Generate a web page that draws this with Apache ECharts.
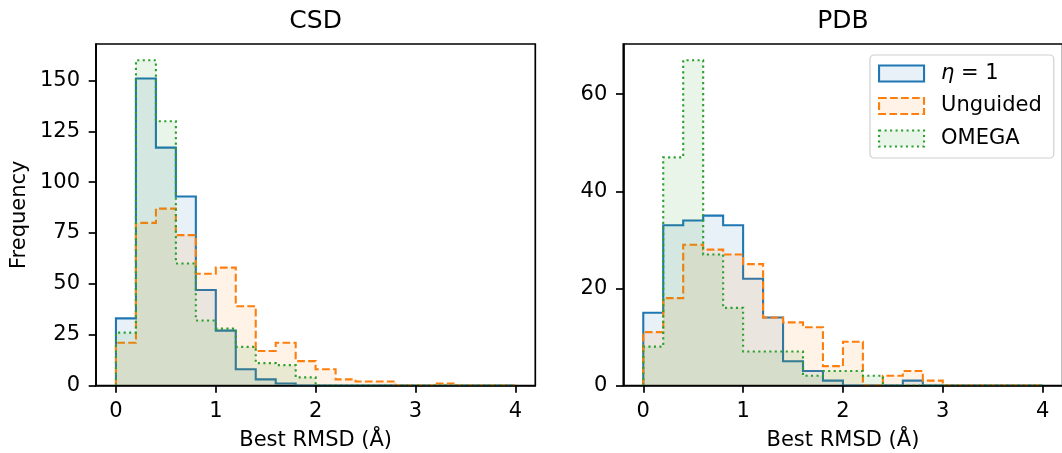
<!DOCTYPE html>
<html><head><meta charset="utf-8">
<script src="https://cdn.jsdelivr.net/npm/echarts@6/dist/echarts.min.js"></script>
<style>html,body{margin:0;padding:0;background:#fff}#c{width:1062px;height:453px}</style>
</head><body><div id="c"></div>
<script>
// ---- data ----
const binEdges = [0, 0.2, 0.4, 0.6, 0.8, 1.0, 1.2, 1.4, 1.6, 1.8, 2.0, 2.2, 2.4, 2.6, 2.8, 3.0, 3.2, 3.4, 3.6, 3.8, 4.0];
const seriesNames = ['η = 1', 'Unguided', 'OMEGA'];
const panelTitles = ['CSD', 'PDB'];

const csdEta      = [33, 151, 117, 93, 47, 27, 8, 3, 1, 0, 0, 0, 0, 0, 0, 0, 0, 0, 0, 0];
const csdUnguided = [21, 80, 87, 74, 55, 58, 39, 17, 21, 12, 8, 3, 2, 2, 0, 0, 1, 0, 0, 0];
const csdOmega    = [26, 160, 130, 60, 32, 28, 19, 11, 10, 4, 0, 0, 0, 0, 0, 0, 0, 0, 0, 0];

const pdbEta      = [15, 33, 34, 35, 33, 22, 14, 5, 3, 1, 0, 0, 0, 1, 0, 0, 0, 0, 0, 0];
const pdbUnguided = [11, 18, 29, 28, 27, 25, 14, 13, 12, 4, 9, 0, 2, 3, 1, 0, 0, 0, 0, 0];
const pdbOmega    = [8, 47, 67, 27, 16, 7, 7, 7, 2, 3, 3, 2, 0, 0, 0, 0, 0, 0, 0, 0];

const xTicks = [0, 1, 2, 3, 4];
const csdYTicks = [0, 25, 50, 75, 100, 125, 150];
const pdbYTicks = [0, 20, 40, 60];
const xLabel = 'Best RMSD (Å)';
const yLabel = 'Frequency';

// ---- styling ----
const FONT = 'DejaVu Sans';
const colors = ['#1f77b4', '#ff7f0e', '#2ca02c'];
const fills = ['rgba(31,119,180,0.1)', 'rgba(255,127,14,0.1)', 'rgba(44,160,44,0.1)'];
const dashes = ['solid', [7.7, 3.3], [2.1, 3.4]];

const panels = [
  { data: [csdEta, csdUnguided, csdOmega], yTicks: csdYTicks, left: 96 },
  { data: [pdbEta, pdbUnguided, pdbOmega], yTicks: pdbYTicks, left: 623.3 }
];
const GRID_TOP = 44, GRID_H = 341.5, GRID_W = 439.3;

function stepPoints(counts) {
  const n = counts.length;
  const pts = [[binEdges[0], 0]];
  for (let i = 0; i < n; i++) {
    pts.push([binEdges[i], counts[i]]);
    pts.push([binEdges[i + 1], counts[i]]);
  }
  pts.push([binEdges[n], 0]);
  return pts;
}

const grids = [], xAxes = [], yAxes = [], series = [], titles = [];
panels.forEach((p, pi) => {
  grids.push({
    left: p.left, top: GRID_TOP, width: GRID_W, height: GRID_H,
    show: true, borderColor: '#000', borderWidth: 1.7, backgroundColor: 'transparent',
    containLabel: false, outerBoundsMode: 'none'
  });
  const allMax = Math.max(...p.data.map(a => Math.max(...a)));
  xAxes.push({
    type: 'value', gridIndex: pi, min: -0.2, max: 4.2, z: 5,
    name: xLabel, nameLocation: 'middle', nameGap: 45,
    nameTextStyle: { fontFamily: FONT, fontSize: 21, color: '#000' },
    axisLine: { show: true, onZero: false, lineStyle: { color: '#000', width: 1.7 } },
    axisTick: { show: true, length: 7.3, lineStyle: { color: '#000', width: 1.7 }, customValues: xTicks },
    axisLabel: { customValues: xTicks, margin: 16, fontFamily: FONT, fontSize: 21, color: '#000' },
    splitLine: { show: false }
  });
  yAxes.push({
    type: 'value', gridIndex: pi, min: 0, max: allMax * 1.05, z: 5,
    name: pi === 0 ? yLabel : '', nameLocation: 'middle', nameGap: 66,
    nameTextStyle: { fontFamily: FONT, fontSize: 21, color: '#000' },
    axisLine: { show: true, onZero: false, lineStyle: { color: '#000', width: 1.7 } },
    axisTick: { show: true, length: 7.3, lineStyle: { color: '#000', width: 1.7 }, customValues: p.yTicks },
    axisLabel: { customValues: p.yTicks, margin: 16, fontFamily: FONT, fontSize: 21, color: '#000' },
    splitLine: { show: false }
  });
  titles.push({
    text: panelTitles[pi], left: p.left + GRID_W / 2, top: 9, padding: 0, textAlign: 'center',
    textStyle: { fontFamily: FONT, fontSize: 25, fontWeight: 'normal', color: '#000' }
  });
  p.data.forEach((counts, si) => {
    series.push({
      type: 'line', name: seriesNames[si], xAxisIndex: pi, yAxisIndex: pi,
      data: stepPoints(counts), symbol: 'none', smooth: false, animation: false,
      lineStyle: { color: colors[si], width: 2.1, type: dashes[si], join: 'miter', cap: 'butt' },
      itemStyle: { color: colors[si] },
      areaStyle: { color: fills[si], opacity: 1 },
      emphasis: { disabled: true }, silent: true, z: 2 + si
    });
  });
});

const chart = echarts.init(document.getElementById('c'), null, { renderer: 'canvas' });
chart.setOption({
  backgroundColor: '#fff',
  animation: false,
  title: titles,
  grid: grids,
  xAxis: xAxes,
  yAxis: yAxes,
  legend: {
    orient: 'vertical', left: 870, top: 55, padding: [8, 12, 9, 8], itemGap: 11.5,
    itemWidth: 45, itemHeight: 16, icon: 'rect', selectedMode: false,
    backgroundColor: 'rgba(255,255,255,0.8)', borderColor: '#d0d0d0', borderWidth: 1.2, borderRadius: 4,
    data: seriesNames.map((n, i) => ({
      name: n,
      itemStyle: { color: fills[i], borderColor: colors[i], borderWidth: 2.1, borderType: dashes[i] }
    })),
    formatter: name => name === 'η = 1' ? '{it|η} = 1' : name,
    textStyle: {
      fontFamily: FONT, fontSize: 21, color: '#000', padding: [0, 0, 0, 12],
      rich: { it: { fontFamily: FONT, fontStyle: 'italic', fontSize: 21, color: '#000' } }
    }
  },
  series: series
});
</script></body></html>
